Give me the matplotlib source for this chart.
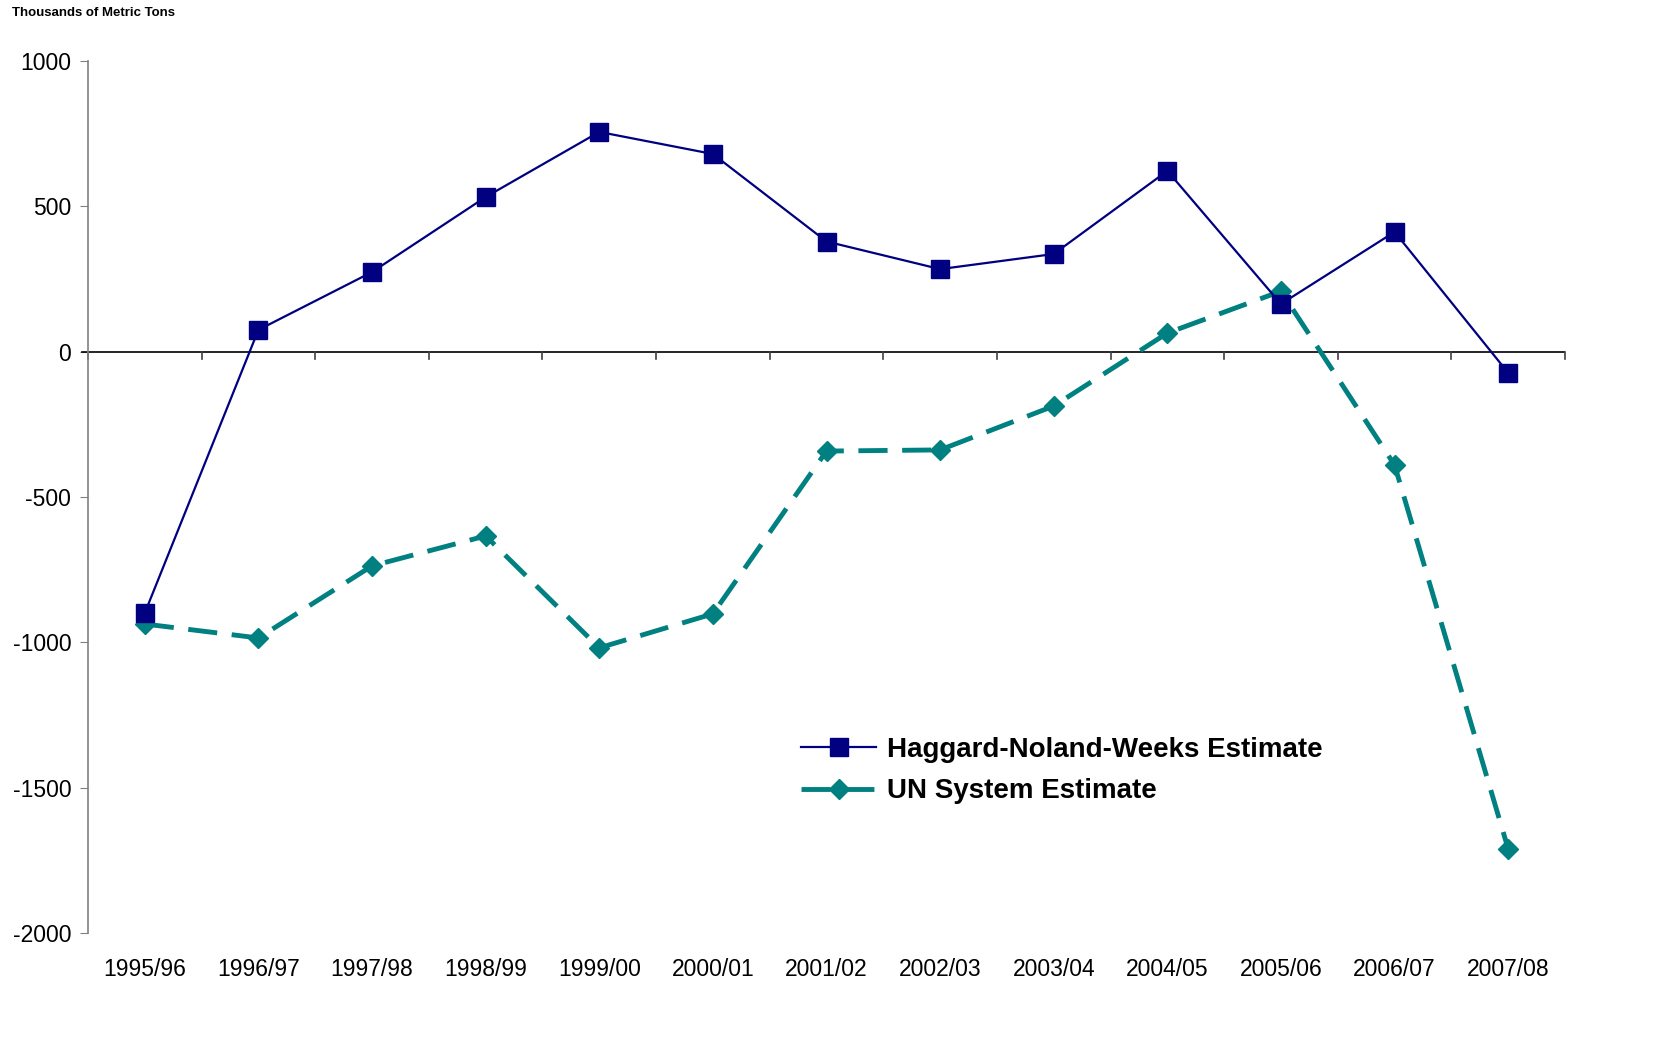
import matplotlib
matplotlib.use("Agg")
import matplotlib.pyplot as plt
import numpy as np

categories = ["1995/96", "1996/97", "1997/98", "1998/99", "1999/00", "2000/01",
              "2001/02", "2002/03", "2003/04", "2004/05", "2005/06", "2006/07", "2007/08"]
haggard = [-899, 75, 274, 532, 756, 680, 379, 284, 336, 622, 164, 412, -73]
un_system = [-937, -985, -737, -634, -1019, -902, -342, -338, -187, 64, 208, -390, -1711]
yticks = [-2000, -1500, -1000, -500, 0, 500, 1000]

plt.rcParams['font.family'] = ['Liberation Sans', 'DejaVu Sans']

fig = plt.figure(figsize=(16.73, 10.48), dpi=100)
ax = fig.add_axes([88/1673, 1-933/1048, (1565-88)/1673, (933-61)/1048])

x = np.arange(len(categories))
ax.plot(x, un_system, color="#008080", lw=3.5, dashes=(6, 3.0), marker="D",
        markersize=10, label="UN System Estimate", zorder=3)
ax.plot(x, haggard, color="#000080", lw=1.6, marker="s", markersize=13,
        label="Haggard-Noland-Weeks Estimate", zorder=4)

ax.set_xlim(-0.5, len(categories) - 0.5)
ax.set_ylim(-2000, 1000)
ax.set_yticks(yticks)
ax.set_yticklabels([str(v) for v in yticks], fontsize=16.5)

for s in ["top", "right", "bottom"]:
    ax.spines[s].set_visible(False)
ax.spines["left"].set_color("#808080")
ax.spines["left"].set_linewidth(1.2)
ax.tick_params(axis="y", direction="out", length=6, color="#808080", pad=6)

ax.set_xticks(x)
ax.set_xticklabels(categories, fontsize=16.5)
ax.tick_params(axis="x", length=0, pad=18)

ax.axhline(0, color="black", lw=1.2, zorder=2)
ax.plot([-0.55, -0.5], [0, 0], color="black", lw=1.2, clip_on=False)
for b in np.arange(-0.5, len(categories), 1.0):
    ax.plot([b, b], [0, -25], color="#404040", lw=1.2, clip_on=False, zorder=2)

fig.text(12/1673, 1-13/1048, "Thousands of Metric Tons", fontsize=9.5,
         fontweight="bold", ha="left", va="center")

lines = ax.get_lines()
leg = ax.legend(handles=[lines[1], lines[0]], loc="upper left",
                bbox_to_anchor=((776-88)/1477, 1-(712-61)/872), frameon=False,
                prop={"weight": "bold", "size": 20},
                handlelength=2.7, labelspacing=0.55, handletextpad=0.4)

fig.savefig("out.png", dpi=100)
